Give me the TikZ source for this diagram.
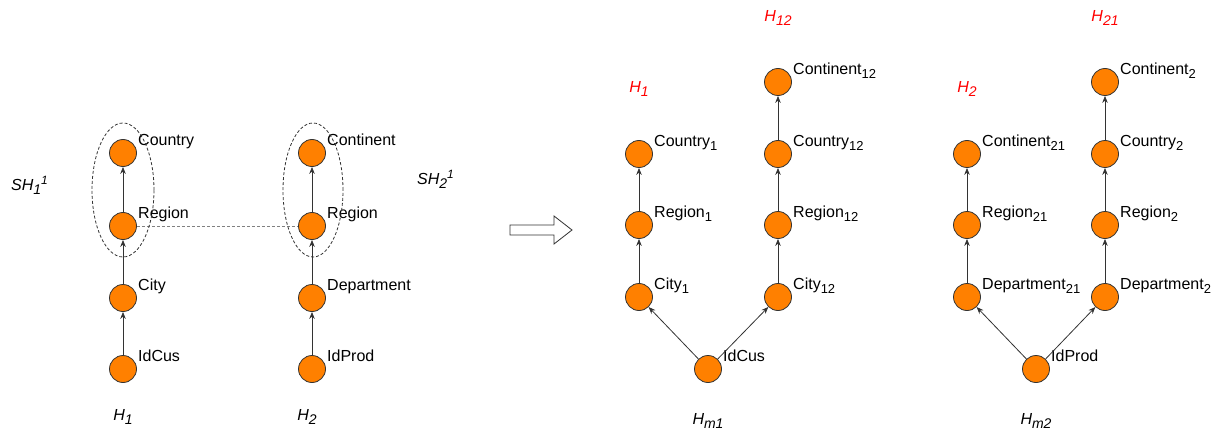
\documentclass[tikz,border=0pt]{standalone}
\usepackage{fontspec}
\setmainfont{Liberation Sans}
\usetikzlibrary{arrows.meta,calc,shapes.geometric}
\definecolor{nodeorange}{HTML}{FF8000}
\definecolor{edgegray}{HTML}{333333}
\definecolor{hred}{HTML}{FF0000}
\tikzset{
  vert/.style={circle,draw=edgegray,line width=0.8pt,fill=nodeorange,minimum size=27pt,inner sep=0pt},
  lab/.style={inner sep=0pt,anchor=base west,font=\fontsize{16}{19}\selectfont},
  hlab/.style={inner sep=0pt,anchor=base,font=\fontsize{16}{19}\selectfont\itshape},
  redlab/.style={hlab,text=hred},
  edge/.style={draw=edgegray,line width=0.8pt,-{Stealth[length=7pt,width=5.5pt]}},
  grp/.style={draw=edgegray,dash pattern=on 3pt off 2pt,line width=0.8pt},
}
\newcommand{\sbs}[1]{\raisebox{-4pt}{\fontsize{13}{15}\selectfont #1}}
\newcommand{\hsb}[1]{\raisebox{-4pt}{\fontsize{14}{16}\selectfont #1}}
\newcommand{\hsp}[1]{\raisebox{6pt}{\fontsize{12}{14}\selectfont #1}}
\newcommand{\vtx}[4]{%
  \node[vert] (#1) at (#2,-#3) {};
  \node[lab] (#1-t) at ($(#1)+(15,7.5)$) {#4};}
\begin{document}
\begin{tikzpicture}[x=1pt,y=1pt]
\useasboundingbox (0,0) rectangle (1221,-433);
% left H1
\vtx{a1}{123}{153}{Country}
\vtx{a2}{123}{226}{Region}
\vtx{a3}{123}{298}{City}
\vtx{a4}{123}{369}{IdCus}
% left H2
\vtx{b1}{312}{153}{Continent}
\vtx{b2}{312}{226}{Region}
\vtx{b3}{312}{298}{Department}
\vtx{b4}{312}{369}{IdProd}
\draw[edge] (a4) -- (a3);
\draw[edge] (a3) -- (a2);
\draw[edge] (a2) -- (a1);
\draw[edge] (b4) -- (b3);
\draw[edge] (b3) -- (b2);
\draw[edge] (b2) -- (b1);
\draw[grp,draw=gray] (a2.east) -- (b2.west);
\node[grp,ellipse,minimum width=62pt,minimum height=134pt,inner sep=0pt] (e1) at (123,-190) {};
\node[grp,ellipse,minimum width=60pt,minimum height=134pt,inner sep=0pt] (e2) at (313,-190) {};
\node[hlab,anchor=base west] (sh1) at (11,-190) {SH\hsb{1}\hsp{1}};
\node[hlab,anchor=base west] (sh2) at (417,-185) {SH\hsb{2}\hsp{1}};
\node[hlab] (h1) at (123,-420) {H\hsb{1}};
\node[hlab] (h2) at (307,-420) {H\hsb{2}};
% big arrow
\draw[line width=0.8pt,draw=edgegray,fill=white] (510,-225) -- (554,-225) -- (554,-216) -- (572,-230) -- (554,-244) -- (554,-235) -- (510,-235) -- cycle;
% Hm1
\vtx{c1}{639}{154}{Country\sbs{1}}
\vtx{c2}{639}{225}{Region\sbs{1}}
\vtx{c3}{639}{297}{City\sbs{1}}
\vtx{d0}{778}{82}{Continent\sbs{12}}
\vtx{d1}{778}{154}{Country\sbs{12}}
\vtx{d2}{778}{225}{Region\sbs{12}}
\vtx{d3}{778}{297}{City\sbs{12}}
\vtx{m1}{708}{369}{IdCus}
\draw[edge] (m1) -- (c3);
\draw[edge] (m1) -- (d3);
\draw[edge] (c3) -- (c2);
\draw[edge] (c2) -- (c1);
\draw[edge] (d3) -- (d2);
\draw[edge] (d2) -- (d1);
\draw[edge] (d1) -- (d0);
\node[redlab] (r1) at (639,-93) {H\hsb{1}};
\node[redlab] (r12) at (778,-22) {H\hsb{12}};
\node[hlab] (hm1) at (708,-424) {H\hsb{m1}};
% Hm2
\vtx{f1}{967}{154}{Continent\sbs{21}}
\vtx{f2}{967}{225}{Region\sbs{21}}
\vtx{f3}{967}{297}{Department\sbs{21}}
\vtx{g0}{1105}{82}{Continent\sbs{2}}
\vtx{g1}{1105}{154}{Country\sbs{2}}
\vtx{g2}{1105}{225}{Region\sbs{2}}
\vtx{g3}{1105}{297}{Department\sbs{2}}
\vtx{m2}{1036}{369}{IdProd}
\draw[edge] (m2) -- (f3);
\draw[edge] (m2) -- (g3);
\draw[edge] (f3) -- (f2);
\draw[edge] (f2) -- (f1);
\draw[edge] (g3) -- (g2);
\draw[edge] (g2) -- (g1);
\draw[edge] (g1) -- (g0);
\node[redlab] (r2) at (967,-93) {H\hsb{2}};
\node[redlab] (r21) at (1105,-22) {H\hsb{21}};
\node[hlab] (hm2) at (1036,-424) {H\hsb{m2}};
\end{tikzpicture}
\end{document}
